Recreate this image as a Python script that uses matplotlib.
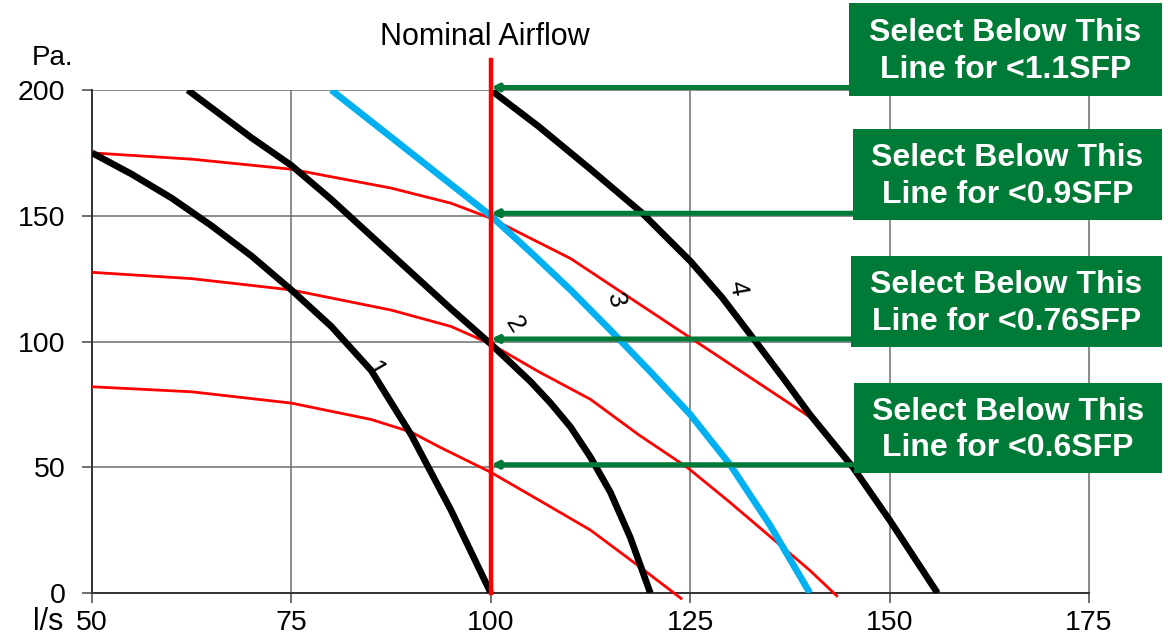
import matplotlib
matplotlib.use("Agg")
import matplotlib.pyplot as plt
from matplotlib.patches import Rectangle

plt.rcParams['font.family'] = ['Liberation Sans', 'DejaVu Sans']

# fan curves (black / blue): airflow l/s, pressure Pa
fan1_x = [50, 55, 60, 65, 70, 75, 80, 85, 90, 95, 100]
fan1_y = [175, 166.5, 157, 146, 134, 120.5, 106, 88.5, 63, 33, 0]
fan2_x = [62, 70, 75, 80, 85, 90, 95, 100, 102.5, 105, 107.5, 110, 112.5, 115, 117.5, 120]
fan2_y = [200, 181, 170, 156.5, 142, 127.5, 113, 99, 91.5, 84, 75.5, 66, 54, 40, 22, 0]
fan3_x = [80, 85, 90, 95, 100, 105, 110, 115, 120, 125, 130, 135, 140]
fan3_y = [200, 187.5, 175, 162.5, 150, 135.5, 120.5, 104.5, 88, 71, 51, 27, 0]
fan4_x = [100, 106, 112.5, 119, 125, 129, 133.2, 137, 140, 145.4, 150, 156]
fan4_y = [200, 185.5, 168.5, 151, 132, 117.5, 100, 84, 71, 50, 29, 0]

# system curves (red)
sys_a_x = [50, 62.5, 75, 87.5, 95, 100, 105, 110, 115, 120, 125, 130, 135, 140]
sys_a_y = [175, 172.5, 168.5, 161, 155, 149, 141, 133, 122.5, 112, 101.5, 91, 80.5, 70]
sys_b_x = [50, 62.5, 75, 87.5, 95, 100, 106, 112.5, 118.5, 124.6, 130, 135, 140, 143.5]
sys_b_y = [127.5, 125, 120.5, 112.5, 106, 99, 88, 77, 63, 50, 36, 22.5, 9, -1.5]
sys_c_x = [50, 62.5, 75, 85, 90, 93.6, 100, 106, 112.5, 118, 124]
sys_c_y = [82, 80, 75.5, 69, 64, 58, 48, 37, 25, 12, -2.5]

nominal_flow = 100
sfp_levels = [200, 150, 100, 50]
sfp_labels = ["Select Below This\nLine for <1.1SFP",
              "Select Below This\nLine for <0.9SFP",
              "Select Below This\nLine for <0.76SFP",
              "Select Below This\nLine for <0.6SFP"]

curve_names = ["1", "2", "3", "4"]
name_pos = [(85.5, 88.7), (103.0, 106.6), (115.6, 116.5), (130.9, 121.3)]
name_rot = [-60, -58, -75, -80]

green = '#007A37'
W, H = 1168, 641

fig = plt.figure(figsize=(W / 100, H / 100), dpi=100)
ax = fig.add_axes([92 / W, 1 - 593 / H, (1089 - 92) / W, (593 - 90) / H])

ax.set_xlim(50, 175)
ax.set_ylim(0, 200)
ax.set_xticks([50, 75, 100, 125, 150, 175])
ax.set_yticks([0, 50, 100, 150, 200])
ax.grid(True, color='#6e6e6e', lw=1.1)
ax.set_axisbelow(True)
ax.spines['top'].set_visible(False)
ax.spines['right'].set_color('#8c8c8c')
for s in ['left', 'bottom']:
    ax.spines[s].set_color('#333333')
    ax.spines[s].set_linewidth(1.4)
ax.tick_params(axis='both', length=7, width=1.2, color='#555555', labelsize=20.5)
ax.tick_params(axis='y', pad=12)
ax.tick_params(axis='x', pad=5)

line_kw = dict(solid_joinstyle='round', solid_capstyle='butt')
for xs, ys in [(sys_a_x, sys_a_y), (sys_b_x, sys_b_y), (sys_c_x, sys_c_y)]:
    ax.plot(xs, ys, color='#ff0000', lw=2.0, clip_on=False, zorder=3, **line_kw)

ax.plot(fan1_x, fan1_y, color='black', lw=4.8, zorder=4, **line_kw)
ax.plot(fan2_x, fan2_y, color='black', lw=4.8, zorder=4, **line_kw)
ax.plot(fan3_x, fan3_y, color='#00b0f0', lw=4.8, zorder=4, **line_kw)
ax.plot(fan4_x, fan4_y, color='black', lw=4.8, zorder=4, **line_kw)

ax.plot([nominal_flow, nominal_flow], [0, 212], color='#ff0000', lw=3.2,
        clip_on=False, zorder=5)
ax.text(nominal_flow - 0.8, 221, "Nominal Airflow", ha='center', va='center',
        fontsize=22)

for name, (px, py), rot in zip(curve_names, name_pos, name_rot):
    ax.text(px, py, name, rotation=rot, ha='center', va='center', fontsize=19)

# green callout boxes, in figure pixels
boxes = [(849, 3, 96), (853, 129, 220), (851, 256, 347), (854, 383, 473)]
for (left, top, bottom), lvl, lab in zip(boxes, sfp_levels, sfp_labels):
    fig.patches.append(Rectangle((left / W, 1 - bottom / H), (1162 - left) / W,
                                 (bottom - top) / H, transform=fig.transFigure,
                                 facecolor=green, edgecolor='none', zorder=10))
    fig.text((left + 1162) / 2 / W, 1 - ((top + bottom) / 2 + 2) / H, lab,
             ha='center', va='center', color='white', fontsize=23,
             fontweight='bold', linespacing=1.3, zorder=11)
    ax.annotate('', xy=(nominal_flow, lvl + 1), xycoords='data',
                xytext=(left / W + 0.002, lvl + 1),
                textcoords=('figure fraction', 'data'),
                arrowprops=dict(arrowstyle='-|>', color=green, lw=3.6,
                                mutation_scale=9, shrinkA=0, shrinkB=0),
                annotation_clip=False, zorder=6)

fig.text(52 / W, 1 - 58 / H, "Pa.", ha='center', va='center', fontsize=20)
fig.text(48 / W, 1 - 622 / H, "l/s", ha='center', va='center', fontsize=22)

fig.savefig("out.png", dpi=100)
